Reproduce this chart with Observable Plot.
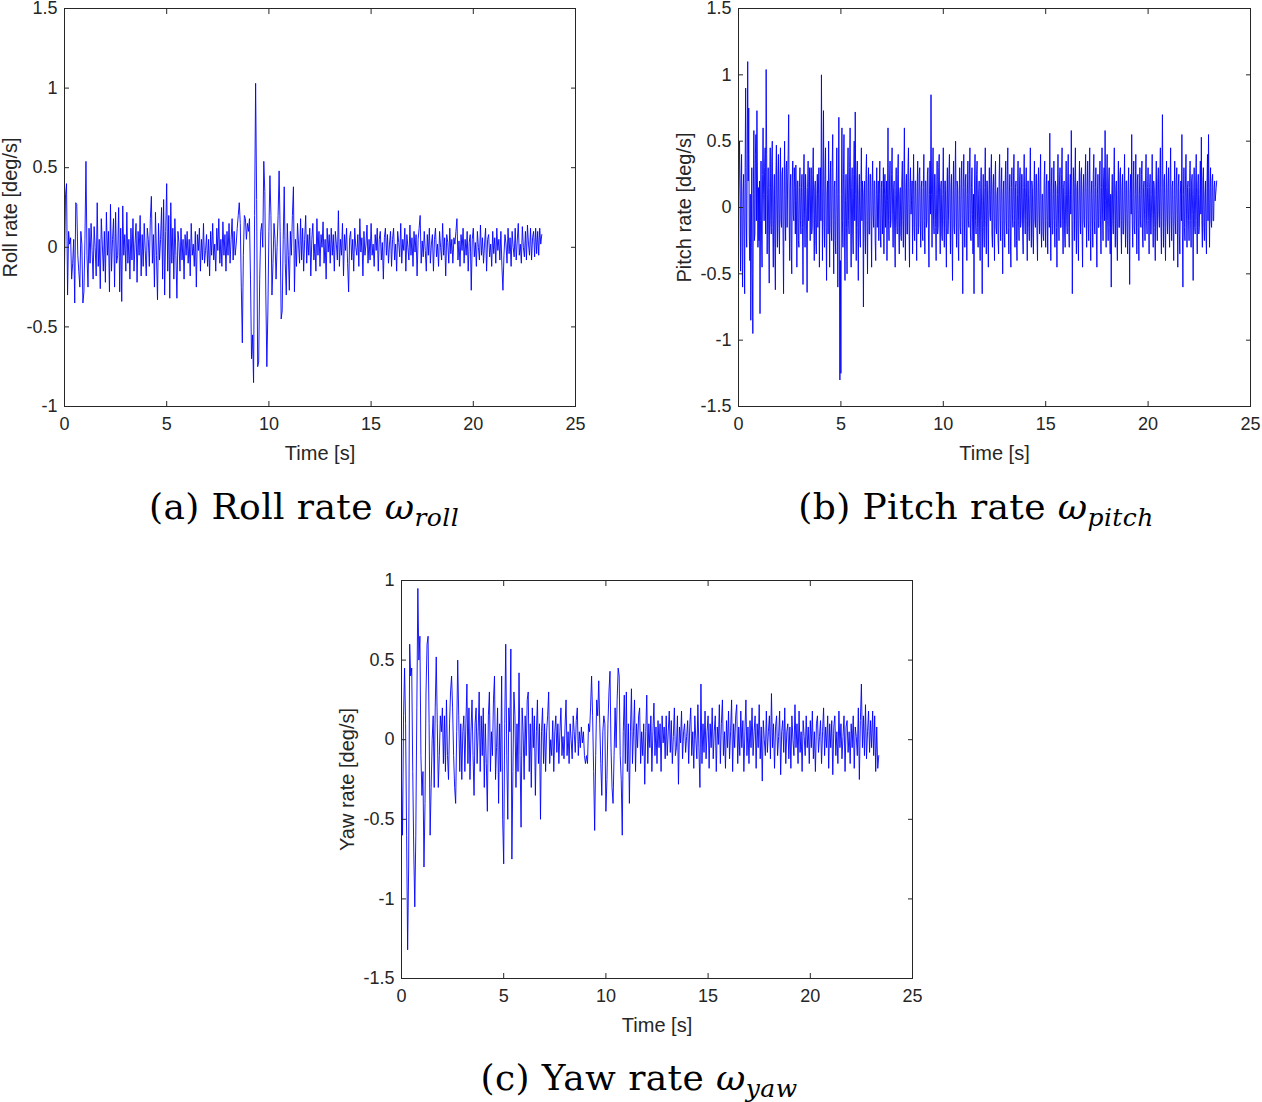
<!DOCTYPE html>
<html>
<head>
<meta charset="utf-8">
<script src="https://cdn.jsdelivr.net/npm/d3@7"></script>
<script src="https://cdn.jsdelivr.net/npm/@observablehq/plot@0.6"></script>
<style>
  html, body { margin: 0; padding: 0; background: #fff; overflow: hidden; }
  #page { position: relative; width: 1262px; height: 1102px; }
  .panel { position: absolute; }
  .cap { position: absolute; transform: translateX(-50%); white-space: nowrap; line-height: 1;
         font-family: "DejaVu Serif", "Liberation Serif", serif; font-size: 36px; letter-spacing: 0.4px;
         font-weight: normal; color: #000; }
  .cap sub { font-size: 25px; vertical-align: -7px; line-height: 0; }
</style>
</head>
<body>
<div id="page"></div>
<script>
// Sampling steps of the recorded signals [s]
const rollStep = 0.05;
const pitchStep = 0.025;
const yawStep = 0.05;

const xTicks = [0, 5, 10, 15, 20, 25];
const rollTicks = [-1, -0.5, 0, 0.5, 1, 1.5];
const pitchTicks = [-1.5, -1, -0.5, 0, 0.5, 1, 1.5];
const yawTicks = [-1.5, -1, -0.5, 0, 0.5, 1];

const xLabel = "Time [s]";
const rollLabel = "Roll rate [deg/s]";
const pitchLabel = "Pitch rate [deg/s]";
const yawLabel = "Yaw rate [deg/s]";

// Roll rate [deg/s], one row per second
const rollRate = [
  -0.13, 0.33, 0.40, -0.30, 0.10, 0.02, 0.06, -0.20, -0.10, 0.05, -0.35, 0.28, 0.27, -0.05, -0.15, -0.25, 0.10, 0.02, -0.35, -0.28,
  0.05, 0.54, -0.05, -0.25, 0.12, -0.10, 0.15, -0.02, -0.20, 0.13, 0.00, -0.18, 0.28, -0.12, 0.05, -0.26, 0.18, 0.02, -0.15, 0.10,
  -0.22, 0.22, -0.05, 0.10, -0.28, 0.27, -0.15, 0.05, 0.18, -0.25, 0.22, -0.10, -0.05, 0.25, -0.28, 0.12, -0.34, 0.26, -0.05, 0.08,
  -0.15, 0.22, -0.10, 0.05, -0.20, 0.12, -0.08, 0.18, -0.15, 0.02, 0.15, -0.22, 0.10, -0.05, 0.20, -0.18, 0.08, -0.12, 0.15, -0.02,
  -0.18, 0.12, 0.05, -0.12, 0.18, 0.32, -0.10, 0.08, -0.25, 0.22, -0.05, -0.33, 0.15, -0.08, 0.05, 0.25, -0.20, 0.30, -0.30, 0.10,
  0.40, -0.15, 0.20, -0.32, 0.28, -0.10, 0.12, -0.20, 0.18, -0.05, -0.32, 0.10, 0.03, -0.15, 0.12, -0.08, 0.05, -0.20, 0.08, -0.05,
  0.10, -0.10, 0.05, -0.18, 0.15, -0.05, 0.02, -0.12, 0.10, -0.25, 0.08, -0.02, 0.12, -0.15, 0.05, -0.08, 0.15, -0.10, -0.02, 0.08,
  -0.12, 0.05, -0.18, 0.10, -0.05, 0.15, -0.08, 0.02, -0.15, 0.12, -0.02, 0.18, -0.10, 0.05, -0.12, 0.16, -0.05, 0.08, -0.15, 0.10,
  -0.05, 0.15, -0.10, 0.05, 0.18, -0.08, 0.10, -0.05, 0.02, 0.12, 0.20, 0.28, 0.15, -0.25, -0.60, -0.05, 0.20, 0.18, 0.05, 0.15,
  0.10, 0.18, -0.20, -0.70, -0.55, -0.85, 0.20, 1.03, 0.30, -0.75, -0.72, -0.20, 0.10, 0.15, 0.00, 0.54, 0.35, -0.30, -0.75, -0.40,
  0.10, 0.45, 0.20, -0.30, -0.10, 0.15, 0.05, -0.20, 0.00, 0.20, 0.48, 0.10, -0.45, -0.40, 0.05, 0.38, -0.10, -0.30, 0.15, -0.05,
  -0.27, 0.10, -0.05, 0.20, 0.38, -0.28, 0.05, -0.12, 0.15, 0.02, -0.10, 0.18, -0.08, 0.12, -0.15, 0.05, 0.20, -0.10, 0.08, -0.05,
  0.12, -0.18, 0.05, 0.15, -0.08, 0.02, -0.15, 0.18, -0.05, 0.10, -0.12, 0.08, 0.00, 0.16, -0.10, 0.05, -0.20, 0.12, -0.03, 0.08,
  -0.10, 0.12, -0.05, 0.08, -0.15, 0.10, 0.02, -0.08, 0.23, -0.12, 0.05, -0.05, 0.15, -0.18, 0.08, -0.02, 0.12, -0.10, -0.28, 0.06,
  0.10, -0.08, 0.05, -0.15, 0.12, 0.00, -0.05, 0.08, -0.12, 0.18, -0.03, 0.06, -0.18, 0.10, -0.05, 0.02, 0.14, -0.10, 0.05, -0.08,
  0.15, -0.05, 0.02, -0.12, 0.08, -0.02, 0.12, -0.15, 0.05, 0.10, -0.08, 0.03, -0.20, 0.06, 0.12, -0.05, 0.08, -0.10, 0.02, 0.10,
  -0.12, 0.05, 0.12, -0.08, 0.02, -0.15, 0.10, 0.03, -0.06, 0.15, -0.10, 0.05, -0.02, 0.12, -0.15, 0.08, 0.00, -0.08, 0.14, -0.05,
  0.06, -0.12, 0.10, -0.03, 0.08, -0.18, 0.05, 0.12, 0.20, -0.10, 0.04, -0.06, 0.10, -0.02, -0.15, 0.08, -0.05, 0.12, -0.10, 0.02,
  0.08, -0.15, 0.05, 0.12, -0.06, 0.02, -0.12, 0.10, 0.00, -0.08, 0.15, -0.05, 0.06, -0.18, 0.08, 0.03, -0.10, 0.12, -0.04, 0.05,
  -0.10, 0.06, 0.02, 0.10, 0.18, -0.08, 0.04, -0.12, 0.08, -0.02, 0.12, -0.10, 0.05, -0.05, 0.10, -0.15, 0.03, 0.08, -0.27, 0.05,
  0.12, -0.06, 0.03, -0.12, 0.10, 0.00, -0.08, 0.14, -0.05, 0.06, -0.10, 0.02, 0.12, -0.15, 0.05, 0.08, -0.06, 0.02, -0.12, 0.10,
  -0.04, 0.06, -0.10, 0.12, -0.02, 0.05, -0.08, 0.10, -0.12, -0.27, -0.05, 0.08, 0.02, -0.10, 0.12, -0.04, 0.06, -0.12, 0.10, 0.00,
  -0.06, 0.12, -0.08, 0.04, 0.15, -0.05, 0.02, -0.10, 0.13, 0.00, -0.06, 0.10, -0.08, 0.14, 0.02, -0.05, 0.12, -0.08, 0.06, 0.10,
  -0.06, 0.12, -0.04, 0.10, -0.05, 0.12, 0.02, 0.08
];

// Pitch rate [deg/s], one row per second
const pitchRate = [
  0.10, 0.30, 0.50, 0.05, -0.48, 0.20, 0.40, -0.30, -0.60, 0.10, 0.25, -0.20, -0.65, 0.30, 0.90, -0.10, -0.30, 0.40, 1.10, 0.20, 0.75, -0.20, -0.40, 0.10, -0.85, -0.30, 0.30, -0.50, -0.95, 0.10, 0.58, -0.25, -0.20, 0.40, 0.55, -0.10, 0.73, 0.20, -0.30, 0.15,
  -0.25, 0.20, -0.80, -0.10, 0.35, -0.20, -0.45, 0.25, 0.60, 0.10, -0.10, 0.30, 0.45, -0.20, 1.04, 0.40, -0.35, 0.10, 0.30, -0.20, -0.57, 0.15, 0.45, -0.10, -0.20, 0.35, 0.50, -0.15, -0.45, 0.10, 0.25, -0.30, -0.62, 0.20, 0.47, -0.05, -0.30, 0.25, 0.40, -0.15,
  -0.35, 0.20, 0.45, -0.10, -0.15, 0.25, 0.30, -0.20, -0.65, 0.10, 0.50, -0.05, -0.25, 0.30, 0.35, -0.15, 0.20, 0.40, 0.70, -0.10, -0.40, 0.15, 0.25, -0.30, -0.50, 0.20, 0.35, -0.05, -0.10, 0.30, 0.15, -0.20, 0.32, 0.05, -0.45, 0.20, 0.20, -0.25, -0.30, 0.15,
  0.30, -0.10, -0.20, 0.15, 0.25, -0.15, -0.58, 0.20, 0.40, -0.05, -0.30, 0.25, 0.10, -0.20, -0.64, 0.15, 0.35, -0.10, 0.05, 0.30, -0.25, 0.10, 0.30, -0.20, -0.15, 0.25, 0.45, -0.05, -0.40, 0.15, 0.20, -0.25, -0.35, 0.10, 0.25, -0.15, 0.10, 0.30, -0.45, 0.05,
  0.30, -0.10, 1.00, 0.20, -0.40, 0.15, 0.73, -0.10, -0.30, 0.25, 0.45, -0.15, -0.55, 0.10, 0.20, -0.20, 0.50, 0.05, -0.45, 0.20, 0.35, -0.15, -0.25, 0.30, 0.55, -0.10, -0.50, 0.15, 0.20, -0.25, -0.35, 0.20, 0.45, -0.05, -0.60, 0.10, 0.68, -0.20, -1.30, -0.40,
  -1.25, 0.10, 0.60, -0.10, -0.30, 0.25, 0.55, -0.20, -0.55, 0.05, 0.25, -0.15, -0.50, 0.20, 0.45, -0.10, -0.20, 0.30, 0.60, -0.05, -0.45, 0.15, 0.30, -0.20, -0.35, 0.25, 0.50, -0.10, 0.72, 0.10, -0.40, 0.20, 0.35, -0.15, -0.55, 0.10, 0.25, -0.20, -0.30, 0.15,
  0.45, -0.10, 0.20, 0.05, -0.75, 0.10, 0.20, -0.15, -0.35, 0.25, 0.40, -0.10, -0.50, 0.15, 0.30, -0.20, -0.20, 0.25, 0.25, -0.10, -0.45, 0.15, 0.35, -0.05, -0.15, 0.20, 0.20, -0.25, -0.40, 0.10, 0.30, -0.15, 0.05, 0.20, -0.25, 0.10, 0.35, -0.20, -0.30, 0.15,
  0.20, -0.20, -0.05, 0.30, -0.35, 0.10, 0.25, -0.15, 0.10, 0.20, -0.40, 0.05, 0.60, -0.10, -0.25, 0.20, 0.35, -0.15, -0.10, 0.25, 0.45, -0.05, -0.30, 0.15, 0.20, -0.20, -0.45, 0.10, 0.30, -0.10, -0.20, 0.25, 0.40, -0.15, -0.35, 0.10, 0.15, -0.20, -0.25, 0.20,
  0.35, -0.10, -0.30, 0.20, 0.60, -0.05, -0.40, 0.15, 0.25, -0.20, -0.20, 0.30, 0.45, -0.10, -0.45, 0.15, 0.30, -0.05, 0.05, 0.20, -0.35, 0.10, 0.40, -0.15, -0.25, 0.20, 0.20, -0.10, -0.40, 0.15, 0.35, -0.20, -0.15, 0.25, 0.30, -0.10, -0.30, 0.15, 0.20, -0.20,
  -0.25, 0.15, 0.40, -0.10, -0.35, 0.20, 0.20, -0.15, -0.10, 0.25, 0.30, -0.20, -0.45, 0.10, 0.35, -0.05, 0.85, 0.10, -0.30, 0.20, 0.45, -0.10, -0.20, 0.25, 0.25, -0.15, -0.40, 0.10, 0.35, -0.20, -0.15, 0.30, 0.40, -0.05, -0.35, 0.15, 0.20, -0.20, -0.25, 0.10,
  0.45, -0.10, -0.30, 0.20, 0.20, -0.15, -0.45, 0.10, 0.30, -0.20, -0.10, 0.25, 0.40, -0.05, -0.35, 0.15, 0.25, -0.20, -0.55, 0.10, 0.35, -0.15, -0.20, 0.25, 0.50, -0.10, -0.30, 0.20, 0.15, -0.25, -0.40, 0.10, 0.30, -0.15, -0.20, 0.20, 0.35, -0.10, -0.65, 0.15,
  0.40, -0.05, -0.30, 0.20, 0.25, -0.15, -0.40, 0.10, 0.35, -0.10, -0.15, 0.25, 0.45, -0.20, -0.25, 0.15, 0.30, -0.05, -0.35, 0.10, -0.65, 0.20, 0.40, -0.10, -0.20, 0.25, 0.35, -0.15, -0.30, 0.10, 0.20, -0.20, -0.40, 0.15, 0.30, -0.10, -0.65, 0.05, 0.25, -0.15,
  -0.30, 0.15, 0.45, -0.10, -0.35, 0.20, 0.20, -0.15, -0.45, 0.10, 0.30, -0.05, -0.10, 0.25, 0.40, -0.20, -0.30, 0.15, 0.25, -0.10, -0.40, 0.20, 0.35, -0.15, -0.20, 0.10, 0.15, -0.25, -0.35, 0.20, 0.40, -0.05, -0.25, 0.15, 0.30, -0.10, -0.50, 0.10, 0.20, -0.20,
  -0.30, 0.20, 0.35, -0.10, -0.20, 0.25, 0.45, -0.15, -0.35, 0.10, 0.25, -0.20, -0.45, 0.15, 0.30, -0.05, -0.15, 0.20, 0.40, -0.10, -0.30, 0.15, 0.20, -0.25, -0.40, 0.10, 0.35, -0.10, -0.25, 0.20, 0.30, -0.15, -0.10, 0.25, 0.25, -0.20, -0.35, 0.15, 0.40, -0.05,
  -0.20, 0.15, 0.30, -0.10, -0.40, 0.20, 0.20, -0.15, -0.25, 0.10, 0.45, -0.05, -0.30, 0.20, 0.15, -0.20, -0.35, 0.10, 0.35, -0.10, -0.15, 0.25, 0.25, -0.20, -0.40, 0.15, 0.30, -0.05, -0.20, 0.20, 0.40, -0.15, -0.30, 0.10, 0.10, -0.20, -0.25, 0.20, 0.35, -0.10,
  -0.30, 0.15, 0.25, -0.10, -0.35, 0.20, 0.20, -0.15, 0.56, -0.05, -0.40, 0.15, 0.30, -0.20, -0.20, 0.10, 0.35, -0.10, -0.30, 0.20, 0.15, -0.15, -0.45, 0.10, 0.40, -0.05, -0.25, 0.20, 0.30, -0.15, -0.15, 0.25, 0.45, -0.10, -0.35, 0.15, 0.20, -0.20, -0.30, 0.10,
  0.35, -0.10, -0.20, 0.20, 0.40, -0.15, -0.30, 0.10, 0.25, -0.05, 0.58, 0.10, -0.65, -0.10, 0.30, 0.15, -0.25, 0.20, 0.45, -0.10, -0.35, 0.15, 0.20, -0.20, -0.40, 0.10, 0.35, -0.05, -0.20, 0.25, 0.30, -0.15, -0.45, 0.10, 0.25, -0.10, -0.15, 0.20, 0.40, -0.05,
  -0.30, 0.15, 0.35, -0.10, -0.25, 0.20, 0.45, -0.15, -0.40, 0.10, 0.20, -0.05, -0.30, 0.25, 0.40, -0.10, -0.20, 0.15, 0.30, -0.20, -0.45, 0.10, 0.25, -0.15, -0.15, 0.20, 0.35, -0.10, -0.35, 0.15, 0.45, -0.05, -0.25, 0.20, 0.30, -0.10, 0.58, 0.05, -0.30, 0.15,
  0.40, -0.10, -0.25, 0.20, 0.30, -0.15, -0.35, 0.10, -0.60, 0.05, 0.25, -0.10, -0.20, 0.20, 0.45, -0.05, -0.30, 0.15, 0.20, -0.20, -0.40, 0.10, 0.35, -0.15, -0.15, 0.25, 0.30, -0.10, -0.35, 0.15, 0.25, -0.20, -0.20, 0.10, 0.40, -0.05, -0.30, 0.20, 0.20, -0.15,
  -0.35, 0.15, 0.30, -0.10, -0.58, 0.10, 0.25, -0.05, 0.55, -0.10, -0.30, 0.20, 0.35, -0.15, -0.20, 0.10, 0.40, -0.05, -0.35, 0.20, 0.25, -0.15, -0.40, 0.10, 0.30, -0.10, -0.15, 0.25, 0.35, -0.20, -0.30, 0.15, 0.20, -0.05, -0.25, 0.20, 0.40, -0.10, -0.20, 0.15,
  0.30, -0.10, -0.35, 0.15, 0.25, -0.20, -0.20, 0.10, 0.40, -0.05, -0.30, 0.20, 0.15, -0.15, -0.40, 0.10, 0.35, -0.10, -0.25, 0.20, 0.30, -0.05, -0.15, 0.25, 0.45, -0.10, -0.35, 0.15, 0.70, 0.05, -0.30, 0.20, 0.25, -0.15, -0.40, 0.10, 0.35, -0.05, -0.20, 0.15,
  0.30, -0.10, -0.30, 0.20, 0.45, -0.05, -0.25, 0.15, 0.20, -0.15, -0.40, 0.10, 0.35, -0.10, -0.20, 0.20, 0.30, -0.05, -0.45, 0.15, 0.25, -0.20, -0.35, 0.10, 0.20, -0.10, 0.55, -0.20, -0.60, 0.10, 0.30, -0.15, -0.25, 0.20, 0.40, -0.05, -0.30, 0.15, 0.20, -0.10,
  -0.25, 0.15, 0.35, -0.10, -0.30, 0.20, 0.25, -0.05, -0.55, 0.10, 0.30, -0.15, -0.20, 0.20, 0.40, -0.10, -0.35, 0.15, 0.25, -0.20, -0.15, 0.10, 0.35, -0.05, 0.53, -0.10, -0.30, 0.20, 0.30, -0.15, -0.25, 0.10, 0.20, -0.20, -0.35, 0.15, 0.40, -0.10, 0.55, 0.05,
  -0.30, 0.15, 0.30, -0.10, -0.15, 0.20, 0.25, -0.10, -0.10, 0.15, 0.20, 0.05, 0.10, 0.15, 0.20
];

// Yaw rate [deg/s], one row per second
const yawRate = [
  -0.25, -0.60, 0.15, 0.45, 0.10, -0.60, -1.32, -0.80, 0.60, 0.40, 0.45, -0.20, -0.70, -1.05, -0.60, 0.20, 0.95, 0.50, 0.65, -0.10,
  -0.35, -0.20, -0.80, -0.40, 0.30, 0.60, 0.65, 0.10, -0.60, -0.30, 0.00, 0.15, -0.30, 0.20, 0.52, 0.10, -0.30, -0.10, 0.15, 0.05,
  0.20, -0.15, 0.15, -0.20, 0.25, -0.10, -0.25, 0.10, 0.30, 0.40, 0.20, -0.10, -0.30, -0.40, 0.05, 0.50, 0.15, -0.20, 0.10, -0.25,
  0.05, 0.15, -0.20, 0.10, 0.35, -0.15, 0.20, -0.25, 0.05, 0.25, -0.10, -0.35, 0.10, 0.20, -0.15, 0.05, 0.30, -0.20, 0.15, -0.10,
  0.20, -0.30, 0.10, -0.15, -0.45, 0.15, 0.30, -0.20, 0.05, -0.10, 0.25, 0.40, -0.25, -0.05, 0.20, -0.40, 0.10, -0.20, 0.40, -0.50,
  -0.78, 0.10, 0.60, -0.10, -0.50, 0.20, 0.05, 0.57, -0.75, -0.20, 0.30, 0.15, -0.30, 0.10, -0.20, 0.42, -0.10, -0.55, 0.20, 0.05,
  -0.25, 0.15, -0.10, 0.25, 0.30, -0.20, 0.10, -0.30, 0.20, -0.05, 0.15, -0.35, 0.05, 0.25, -0.15, 0.10, -0.50, 0.05, 0.20, -0.15,
  0.10, -0.20, 0.05, 0.15, 0.30, -0.15, 0.00, -0.10, 0.12, -0.20, 0.05, 0.15, -0.08, 0.10, -0.15, 0.05, 0.20, -0.10, 0.02, -0.12,
  0.08, 0.25, -0.10, 0.05, -0.15, 0.10, 0.00, -0.12, 0.15, 0.05, -0.08, 0.12, 0.20, -0.10, 0.05, -0.05, 0.08, -0.02, 0.05, -0.10,
  -0.15, -0.10, -0.15, 0.10, 0.05, 0.20, 0.40, 0.15, -0.20, -0.57, -0.10, 0.25, 0.15, 0.37, 0.10, -0.15, -0.35, 0.05, 0.15, 0.10,
  -0.45, -0.25, 0.10, 0.30, 0.43, -0.05, -0.30, -0.40, -0.10, 0.20, -0.05, 0.25, 0.45, 0.40, -0.10, -0.25, -0.60, 0.05, 0.28, -0.15,
  0.30, -0.20, 0.10, -0.40, 0.05, 0.32, -0.15, 0.05, 0.25, -0.20, 0.10, -0.05, 0.15, 0.20, -0.15, 0.05, -0.10, 0.10, -0.28, 0.05,
  0.28, -0.15, 0.10, -0.05, 0.15, -0.20, 0.05, 0.23, -0.10, 0.08, -0.15, 0.12, -0.05, 0.10, -0.20, 0.15, -0.02, 0.08, -0.12, 0.15,
  -0.10, 0.05, 0.18, -0.08, 0.12, -0.15, 0.02, 0.20, -0.10, -0.05, 0.15, -0.28, 0.08, -0.02, 0.18, -0.12, 0.05, 0.10, -0.08, 0.02,
  0.12, -0.15, 0.08, 0.20, -0.10, 0.05, -0.18, 0.15, 0.00, -0.12, 0.22, -0.05, -0.30, 0.35, -0.15, 0.10, -0.08, 0.18, -0.12, 0.05,
  0.15, -0.18, 0.10, -0.05, 0.20, -0.12, 0.05, 0.15, -0.20, 0.08, -0.03, 0.22, -0.15, 0.10, 0.25, -0.10, 0.05, -0.18, 0.12, -0.05,
  0.18, -0.12, 0.05, 0.25, -0.20, 0.10, -0.05, 0.15, 0.22, -0.15, 0.08, -0.10, 0.18, -0.05, 0.12, -0.20, 0.05, 0.25, -0.10, 0.08,
  -0.15, 0.12, -0.05, 0.20, -0.10, 0.05, 0.15, -0.18, 0.10, -0.05, 0.22, -0.12, 0.08, -0.26, 0.12, 0.00, -0.10, 0.18, -0.08, 0.05,
  0.15, -0.12, 0.29, -0.05, 0.10, -0.18, 0.08, 0.15, -0.10, 0.02, 0.18, -0.22, 0.05, 0.12, -0.08, 0.20, -0.15, 0.05, 0.10, -0.12,
  0.08, -0.18, 0.15, 0.00, -0.10, 0.22, -0.05, 0.10, -0.15, 0.18, -0.08, 0.05, -0.20, 0.12, 0.02, -0.10, 0.15, -0.05, 0.08, -0.15,
  0.12, -0.05, 0.18, -0.12, 0.05, -0.20, 0.10, 0.15, -0.08, 0.02, 0.12, -0.15, 0.05, 0.20, -0.10, 0.08, -0.05, 0.15, -0.18, 0.10,
  -0.05, 0.12, -0.22, 0.08, 0.15, -0.10, 0.05, -0.15, 0.18, -0.05, 0.10, -0.12, 0.02, 0.15, -0.20, 0.08, 0.12, -0.08, 0.05, -0.15,
  0.10, -0.05, 0.15, -0.18, 0.08, 0.02, -0.10, 0.20, -0.25, 0.12, 0.35, -0.05, 0.15, -0.10, 0.22, -0.12, 0.05, 0.18, -0.08, 0.12,
  -0.05, 0.18, -0.10, 0.15, -0.20, 0.08, -0.18, -0.10
];

const fmt = d => String(d);
const axisColor = "#262626";

function panel({values, step, yDomain, yTicks, yLabel, width, marginRight}) {
  const data = values.map((v, i) => ({t: +(i * step).toFixed(3), v}));
  return Plot.plot({
    width, height: 470,
    marginLeft: 64, marginRight, marginTop: 8, marginBottom: 64,
    style: {fontFamily: "'Liberation Sans', Arial, sans-serif", fontSize: "18px", color: axisColor, background: "transparent", overflow: "visible"},
    x: {domain: [0, 25], label: null},
    y: {domain: yDomain, label: null},
    marks: [
      Plot.line(data, {x: "t", y: "v", stroke: "#0000ff", strokeWidth: 0.9}),
      Plot.frame({stroke: axisColor, strokeWidth: 1}),
      Plot.axisX(xTicks, {anchor: "bottom", tickSize: 5, dy: -5, text: null, label: null, stroke: axisColor}),
      Plot.axisX(xTicks, {anchor: "top", tickSize: 5, dy: 5, text: null, label: null, stroke: axisColor}),
      Plot.axisY(yTicks, {anchor: "left", tickSize: 5, dx: 5, text: null, label: null, stroke: axisColor}),
      Plot.axisY(yTicks, {anchor: "right", tickSize: 5, dx: -5, text: null, label: null, stroke: axisColor}),
      Plot.axisX(xTicks, {anchor: "bottom", tickSize: 0, tickPadding: 11, tickFormat: fmt, label: null, fontSize: 18}),
      Plot.axisY(yTicks, {anchor: "left", tickSize: 0, tickPadding: 7, tickFormat: fmt, label: null, fontSize: 18}),
      Plot.text([xLabel], {frameAnchor: "bottom", lineAnchor: "middle", textAnchor: "middle", dy: 47, text: d => d, fontSize: 20, fill: axisColor}),
      Plot.text([yLabel], {frameAnchor: "left", lineAnchor: "middle", textAnchor: "middle", dx: -54, rotate: -90, text: d => d, fontSize: 20, fill: axisColor})
    ]
  });
}

const page = document.getElementById("page");
function place(node, left, top) {
  node.classList.add("panel");
  node.style.left = left + "px";
  node.style.top = top + "px";
  page.appendChild(node);
}

place(panel({values: rollRate, step: rollStep, yDomain: [-1, 1.5], yTicks: rollTicks, yLabel: rollLabel, width: 600, marginRight: 25}), 0, 0);
place(panel({values: pitchRate, step: pitchStep, yDomain: [-1.5, 1.5], yTicks: pitchTicks, yLabel: pitchLabel, width: 588, marginRight: 12}), 674, 0);
place(panel({values: yawRate, step: yawStep, yDomain: [-1.5, 1], yTicks: yawTicks, yLabel: yawLabel, width: 600, marginRight: 25}), 337, 572);

function caption(html, cx, top) {
  const d = document.createElement("div");
  d.className = "cap";
  d.innerHTML = html;
  d.style.left = cx + "px";
  d.style.top = top + "px";
  page.appendChild(d);
}
caption("(a) Roll rate <i>ω</i><sub><i>roll</i></sub>", 304, 489);
caption("(b) Pitch rate <i>ω</i><sub><i>pitch</i></sub>", 976, 489);
caption("(c) Yaw rate <i>ω</i><sub><i>yaw</i></sub>", 639, 1060);
</script>
</body>
</html>
